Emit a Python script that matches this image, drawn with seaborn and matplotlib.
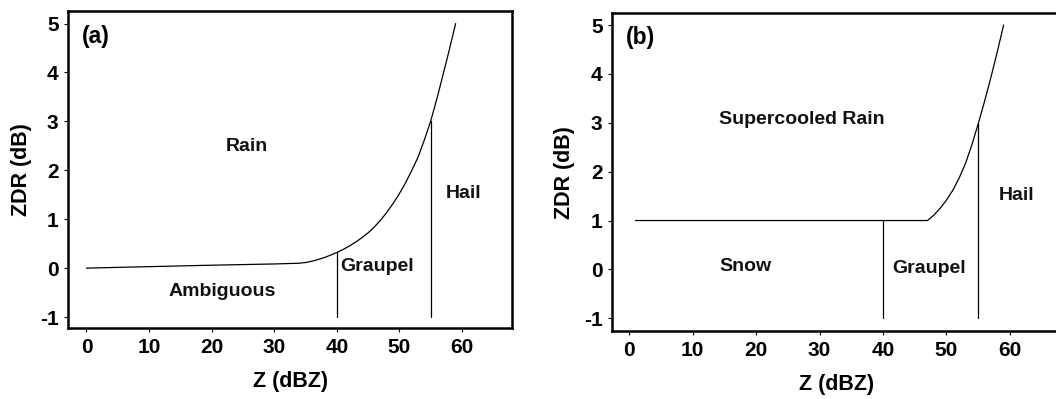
import matplotlib
matplotlib.use("Agg")
import matplotlib.pyplot as plt
import seaborn as sns
import pandas as pd

# ---- data ----
# Panel (a): Rain / Ambiguous boundary curve
a_z = [0, 10, 20, 30, 34, 35, 36, 37, 38, 39, 40, 41, 42, 43, 44, 45, 46, 47, 48,
       49, 50, 51, 52, 53, 54, 55, 56, 57, 58, 59]
a_zdr = [0, 0.03, 0.06, 0.085, 0.10, 0.115, 0.14, 0.175, 0.215, 0.265, 0.32, 0.38,
         0.45, 0.53, 0.62, 0.72, 0.84, 0.98, 1.14, 1.32, 1.52, 1.745, 2.0, 2.27,
         2.62, 3.0, 3.46, 3.96, 4.47, 5.0]
a_vline_z = [40, 55]
a_vline_top = [0.32, 3.0]

# Panel (b): Supercooled Rain / Snow boundary curve
b_z = [1, 47, 48, 49, 50, 51, 52, 53, 54, 55, 56, 57, 58, 59]
b_zdr = [1, 1, 1.11, 1.25, 1.42, 1.62, 1.87, 2.17, 2.55, 2.98, 3.44, 3.93, 4.45, 5.0]
b_vline_z = [40, 55]
b_vline_top = [1.0, 3.0]

vline_bottom = -1

x_ticks = [0, 10, 20, 30, 40, 50, 60]
y_ticks = [-1, 0, 1, 2, 3, 4, 5]

a_labels = ["Rain", "Ambiguous", "Graupel", "Hail"]
a_label_z = [25.6, 21.7, 46.5, 60.2]
a_label_zdr = [2.48, -0.48, 0.03, 1.53]

b_labels = ["Supercooled Rain", "Snow", "Graupel", "Hail"]
b_label_z = [27.2, 18.4, 47.2, 61.0]
b_label_zdr = [3.06, 0.06, 0.02, 1.52]

panel_tags = ["(a)", "(b)"]

# ---- style ----
sns.set_theme(style="ticks")
plt.rcParams["font.family"] = ["Liberation Sans", "DejaVu Sans"]

fig = plt.figure(figsize=(10.56, 3.99), dpi=100)
ax_a = fig.add_axes([0.0647, 0.1772, 0.4848 - 0.0647, 0.9717 - 0.1772])
ax_b = fig.add_axes([0.5798, 0.1704, 1.0045 - 0.5798, 0.9667 - 0.1704])


def draw(ax, z, zdr, vz, vtop, labels, lz, lzdr, tag, xlim, ylim):
    df = pd.DataFrame({"Z": z, "ZDR": zdr})
    sns.lineplot(data=df, x="Z", y="ZDR", ax=ax, color="black", lw=0.9,
                 sort=False, estimator=None)
    for xv, top in zip(vz, vtop):
        dv = pd.DataFrame({"Z": [xv, xv], "ZDR": [vline_bottom, top]})
        sns.lineplot(data=dv, x="Z", y="ZDR", ax=ax, color="black", lw=0.9,
                     sort=False, estimator=None)
    for t, x, y in zip(labels, lz, lzdr):
        ax.text(x, y, t, ha="center", va="center", fontsize=14,
                fontweight="bold", color="#111111")
    ax.text(xlim[0] + 2.2, 4.74, tag, ha="left", va="center", fontsize=16.5,
            fontweight="bold", color="black")
    ax.set_xlim(*xlim)
    ax.set_ylim(*ylim)
    ax.set_xticks(x_ticks)
    ax.set_yticks(y_ticks)
    ax.set_xticklabels([str(v) for v in x_ticks], fontsize=15, fontweight="bold")
    ax.set_yticklabels([str(v) for v in y_ticks], fontsize=15, fontweight="bold")
    ax.tick_params(direction="out", length=3, width=0.8, pad=4, colors="black")
    ax.set_xlabel("Z (dBZ)", fontsize=15.5, labelpad=10, color="black",
                  fontweight="bold")
    ax.set_ylabel("ZDR (dB)", fontsize=15.5, labelpad=6, color="black",
                  fontweight="bold")
    for s in ax.spines.values():
        s.set_visible(True)
        s.set_linewidth(1.8)
        s.set_color("black")
    ax.set_facecolor("white")


draw(ax_a, a_z, a_zdr, a_vline_z, a_vline_top, a_labels, a_label_z, a_label_zdr,
     panel_tags[0], (-2.9, 68.0), (-1.23, 5.25))
draw(ax_b, b_z, b_zdr, b_vline_z, b_vline_top, b_labels, b_label_z, b_label_zdr,
     panel_tags[1], (-2.65, 68.0), (-1.26, 5.24))

fig.savefig("out.png", dpi=100, facecolor="white")
